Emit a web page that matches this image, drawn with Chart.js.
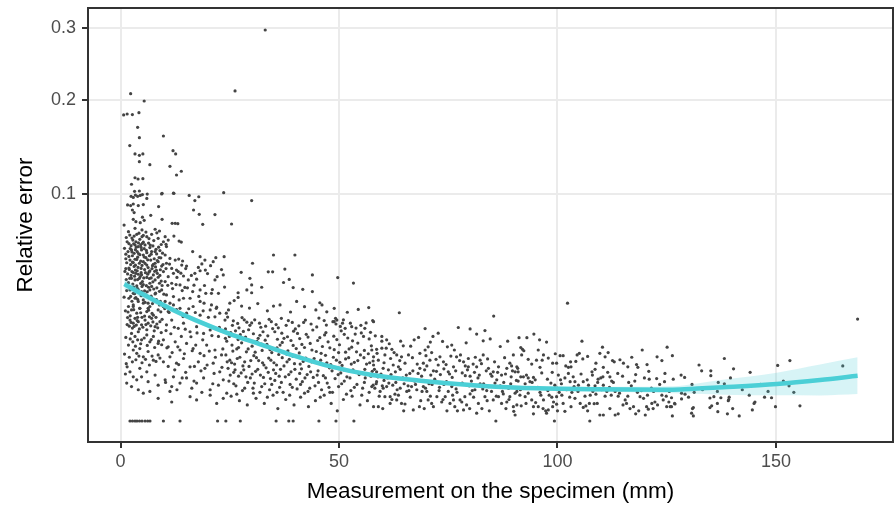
<!DOCTYPE html>
<html><head><meta charset="utf-8">
<script src="https://cdn.jsdelivr.net/npm/chart.js@4.4.1/dist/chart.umd.min.js"></script>
<style>html,body{margin:0;padding:0;background:#fff;}canvas{display:block;}</style>
</head><body>
<canvas id="c" width="896" height="511" style="width:896px;height:511px"></canvas>
<script>
// ---- tick values ----
const xTicks = [0, 50, 100, 150];
const yTicks = [0.1, 0.2, 0.3];

// ---- observations: [measurement (mm), relative error] ----
const ptsUpper = [[33.1,.2974],[26.2,.2119],[2.3,.2084],[5.4,.1992],[0.7,.1822],[1.5,.1833],[2.7,.1826],[4.2,.1849],[3.9,.1678],[4.3,.1561],[9.8,.158],[2.1,.1475],[3.3,.1387],[4.3,.1373],[5.1,.1387],[12.0,.1421],[12.6,.1387],[4.3,.1308],[6.7,.1278],[11.3,.1262],[13.9,.1213],[12.8,.1177],[3.3,.1151],[4.0,.1139],[5.1,.1142],[2.5,.109],[3.2,.1026],[4.3,.1029],[6.1,.1002],[9.5,.1008],[12.2,.1008],[23.6,.1014],[30.0,.0945],[25.4,.0755],
[2.4,.0982],[2.9,.0972],[3.4,.0993],[3.9,.0982],[4.5,.099],[5.0,.0997],[6.0,.0964],[9.4,.1003],[12.1,.101],[15.7,.099],[17.9,.0978],[17.0,.0945],[1.6,.0908],[2.3,.0903],[2.9,.0916],[4.05,.0903],[5.2,.0911],[8.7,.0894],[2.7,.0866],[3.1,.0845],[16.7,.0866],[18.0,.0831],[21.6,.0829],[6.9,.0823],[5.0,.0808],[2.9,.0791],[3.5,.0773],[4.5,.0765],[5.4,.0783],[9.5,.0791],[11.8,.076],[12.5,.076],[13.1,.0757],[18.8,.0752],[0.8,.0747],[3.3,.0722],[4.9,.071],[7.9,.0715],[8.9,.0702],[1.8,.0697]];

const pts0to25 = [[3.1,.0665],[3.7,.0678],[5.2,.067],[6.0,.0661],[7.1,.0678],[8.6,.0649],[10.2,.0661],[12.2,.0665],[13.4,.063],[13.9,.0623],
[2.8,.0637],[3.5,.0625],[4.4,.0642],[5.0,.0614],[3.3,.0603],[4.05,.0592],[5.6,.0603],[6.7,.0585],[9.8,.0625],[10.4,.0607],[10.9,.0637],[10.5,.0592],
[2.5,.0569],[3.1,.0547],[3.8,.0558],[4.8,.0569],[5.2,.0536],[6.0,.0551],[7.1,.0558],[8.25,.0543],[9.0,.0565],[10.2,.0536],[11.3,.0514],[12.5,.0504],[13.3,.051],[14.2,.0498],[16.5,.0558],[18.2,.0525],[19.3,.0504],[21.2,.0494],[21.8,.0519],[23.7,.0525],
[2.15,.0504],[2.9,.0488],[3.7,.0508],[4.3,.0484],[5.2,.0494],[6.0,.0473],[6.9,.0504],[7.9,.0484],[8.6,.0494],[9.4,.0467],[10.5,.0484],[11.7,.0453],[12.8,.0443],[14.0,.0473],[15.1,.0467],[17.0,.0424],[18.2,.0439],[19.4,.0443],[18.6,.048],
[2.0,.0447],[2.6,.0434],[3.4,.0443],[4.05,.0419],[4.7,.0453],[5.7,.0428],[6.7,.0439],[7.5,.0415],[8.4,.0424],[9.8,.0434],[10.9,.0405],[12.1,.0424],[13.2,.0434],[14.4,.0409],[15.5,.0387],[17.4,.0391],[22.1,.0405],[23.5,.0415],[21.6,.0387],
[2.5,.0396],[3.3,.0387],[4.3,.0396],[5.0,.0378],[6.0,.0401],[6.7,.0369],[7.9,.0387],[8.9,.0369],[10.2,.0378],[11.7,.0369],[13.6,.036],[14.7,.0347],[16.5,.0326],[18.2,.0334],[19.5,.0317],[20.8,.0317],[22.4,.0317],
[2.15,.0334],[2.9,.0317],[3.8,.0343],[4.8,.0326],[5.8,.0309],[6.7,.0334],[7.9,.0314],[9.4,.0334],[10.5,.0309],[12.1,.0301],[13.4,.0285],[14.4,.0293],[15.9,.0293],[18.2,.0278],[19.1,.027],[20.8,.0262],[22.0,.0252],
[3.3,.0293],[4.05,.0278],[5.2,.0285],[6.3,.027],[7.5,.0285],[8.9,.0262],[10.2,.0278],[2.9,.0255],[4.4,.0247],[6.3,.0247],[9.8,.0255],[11.3,.027],
[1.9,.0612],[2.4,.0598],[3.6,.0588],[4.6,.0604],[5.4,.0578],[6.4,.0616],[7.4,.0596],[8.1,.0573],[1.7,.0558],[2.7,.0531],[3.9,.0522],[4.4,.0538],[5.8,.0519],[6.6,.0531],[7.7,.0512],[8.8,.052],[2.3,.0476],[3.1,.0465],[4.0,.0459],[4.9,.0471],[5.5,.0446],[6.3,.0458],[7.2,.0452],[8.0,.0462],[1.6,.0421],[2.4,.0412],[3.5,.0424],[4.5,.0406],[5.3,.0398],[6.2,.0419],[7.0,.0398],[7.8,.0436],[9.1,.0445],[1.8,.0372],[2.8,.0365],[3.7,.0355],[4.6,.0368],[5.9,.0356],[7.1,.0352],[8.3,.0345],[9.5,.0357],[1.4,.0331],[2.3,.0302],[3.5,.0296],[4.4,.0321],[6.1,.0325],[7.0,.0303],
[0.9,.058],[1.2,.0512],[1.0,.0435],[1.3,.0389],[0.8,.0298],[1.1,.0236],[1.5,.0181],[1.2,.0136],[0.9,.0087],[1.3,.0064],[1.1,.0043],
[1.8,.0255],[2.5,.024],[2.9,.0262],[3.7,.0226],[4.4,.0247],[5.2,.027],[6.0,.0233],[6.7,.0255],[7.5,.0218],[8.6,.024],[9.8,.0255],[10.9,.0233],[12.1,.0262],[13.6,.0247],[15.1,.0226],[16.6,.0255],[18.2,.0218],[20.5,.024],[21.6,.0211],[22.7,.0226],[23.9,.0198],
[2.15,.0198],[2.9,.0186],[3.3,.0205],[4.05,.0192],[4.8,.018],[5.6,.0198],[6.3,.0186],[7.1,.0205],[7.9,.0173],[9.0,.0192],[10.5,.018],[11.7,.0198],[13.2,.0167],[14.4,.0186],[15.9,.0155],[17.4,.0173],[19.0,.0149],[20.5,.0161],[22.4,.0139],[23.9,.0155],
[2.5,.0149],[3.3,.0139],[4.05,.0155],[4.8,.0128],[6.0,.0144],[6.7,.0122],[7.5,.0139],[8.6,.0117],[9.8,.0128],[10.9,.0107],[12.5,.0122],[13.6,.0098],[15.1,.0117],[16.6,.0102],[18.2,.0089],[19.7,.0112],[21.6,.0098],[23.1,.0085],
[1.8,.0112],[2.9,.0098],[3.7,.0089],[4.4,.0102],[5.2,.008],[6.3,.0094],[7.5,.0072],[8.6,.0085],[9.8,.0068],[11.3,.008],[12.8,.0065],[14.4,.0076],[15.9,.0057],[17.8,.0068],[19.3,.0054],[21.2,.0065],[22.7,.0047],
[1.5,.0057],[2.15,.0047],[2.9,.0038],[3.7,.0033],[4.4,.0054],[4.8,.0038],[6.0,.0047],[6.3,.003],[7.9,.0041],[8.6,.0025],[10.2,.0033],[11.7,.0023],[12.1,.0038],[13.6,.0028],[15.1,.0036],[16.3,.0021],[17.4,.0028],[19.0,.0036],[20.5,.0019],[22.4,.0025],[23.5,.0033],
[1.4,.0028],[2.5,.0023],[4.05,.0019],[5.2,.0015],[6.7,.0017],[8.6,.001],[11.3,.0017],[11.7,.0007],[15.9,.00115],[17.4,.00086],[20.5,.0013],[22.0,.0006],[23.5,.001],
[1.7,.0231],[2.2,.0215],[3.0,.0241],[3.9,.0209],[4.6,.0228],[5.5,.0214],[6.4,.0239],[7.2,.0225],[8.1,.0209],[9.2,.0232],[2.0,.0175],[2.7,.0168],[3.6,.0179],[4.3,.0165],[5.1,.0171],[6.0,.0162],[6.9,.0176],[7.7,.0158],[8.5,.0169],[9.3,.0152],
[1.3,.0655],[2.1,.0672],[2.6,.0651],[4.2,.0686],[4.9,.0661],[5.8,.0694],[6.5,.0647],[7.6,.0633],[8.3,.0689],[9.3,.0606],
[1.5,.0625],[2.2,.0578],[3.0,.0611],[3.4,.0571],[4.1,.0617],[4.7,.0586],[5.2,.0622],[5.9,.0566],[6.8,.0602],[7.9,.0558],[8.7,.0588],[9.6,.0548],
[1.2,.0541],[1.9,.0527],[2.6,.0556],[3.3,.0509],[4.1,.0545],[4.6,.0497],[5.4,.0523],[6.2,.0505],[7.0,.0541],[7.5,.0478],[8.4,.0501],[9.2,.0518],
[1.4,.0487],[1.9,.0455],[2.7,.0491],[3.4,.0472],[3.8,.0439],[4.7,.0428],[5.6,.0483],[6.5,.0431],[7.3,.0469],[8.2,.0441],[9.0,.0412],[9.7,.0476],
[1.2,.0452],[2.1,.0396],[2.9,.0429],[3.2,.0408],[3.9,.0389],[4.8,.0416],[5.2,.0362],[6.6,.0395],[7.4,.0377],[8.6,.0402],[9.3,.0381],
[1.6,.0356],[2.3,.0341],[3.0,.0349],[4.0,.0337],[4.9,.0352],[5.5,.0329],[6.4,.0348],[7.6,.0339],[8.0,.0318],[8.9,.0327],[9.9,.0313],
[1.9,.0293],[2.6,.0279],[3.2,.0315],[3.9,.0288],[4.7,.0305],[5.6,.0274],[6.5,.0296],[7.3,.0268],[8.2,.0287],[9.1,.0279],
[1.6,.0208],[2.4,.0189],[3.1,.0174],[3.8,.0196],[4.9,.0209],[5.8,.0181],[6.6,.0211],[7.4,.0191],[8.3,.0183],[9.5,.0201],
[2.2,.0131],[2.8,.0122],[3.4,.0109],[3.9,.0128],[4.6,.0116],[5.4,.0134],[6.1,.0111],[7.0,.0129],[7.8,.0105],[8.7,.0124],[9.4,.0113],
[2.0,.0079],[2.7,.0068],[3.5,.0073],[4.2,.0082],[4.9,.0066],[5.7,.0074],[6.6,.0061],[7.2,.0082],[8.1,.0069],[9.0,.0077],
[10.4,.0452],[11.2,.0479],[12.9,.0401],[13.8,.0425],[14.9,.0452],[16.2,.0412],[17.8,.0459],[19.9,.0423],[20.6,.0469],[23.1,.0446],
[10.8,.0358],[11.9,.0341],[12.7,.0362],[14.1,.0331],[15.3,.0345],[16.8,.0359],[17.9,.0302],[19.2,.0357],[21.0,.0336],[23.8,.0349],
[10.1,.0246],[11.1,.0229],[12.8,.0241],[14.3,.0212],[15.6,.0245],[17.1,.0229],[18.9,.0236],[20.1,.0209],[21.9,.0247],[24.2,.0226],
[10.4,.0159],[11.5,.0148],[12.3,.0171],[13.9,.0139],[14.8,.0164],[16.1,.0138],[17.5,.0151],[18.8,.0128],[20.9,.0142],[22.6,.0171],[24.0,.0133],
[10.6,.0104],[11.8,.0091],[13.1,.0107],[14.6,.0088],[16.4,.0096],[17.2,.0112],[19.1,.0083],[20.3,.0095],[21.7,.0079],[23.4,.0101],
[10.9,.0058],[12.4,.0051],[13.3,.0062],[14.9,.0046],[16.9,.0058],[18.4,.0049],[19.8,.0061],[21.4,.0044],[23.2,.0056],[24.4,.0068],
[10.3,.0029],[12.9,.0019],[14.1,.0036],[16.8,.0031],[18.6,.0016],[21.1,.0027],[24.3,.0015]];

const pts25to58 = [[35,.0536],[39.9,.0536],[30.2,.0484],[27.6,.043],[33.8,.0433],[34.8,.0433],[37.6,.0449],[29.6,.0396],[26.9,.032],[26.9,.0297],[37.3,.0373],[38.6,.039],[39.5,.0346],[41.7,.0337],[43.9,.0415],[43.9,.0326],[49.7,.04],[53.3,.037],[28.9,.0334],[30,.036],[30,.032],[32.3,.0348],
[25,.027],[24.7,.024],[27.7,.0257],[35,.0257],[42.1,.0254],[45.6,.0272],[47.2,.0232],[48.9,.0247],[54.4,.0242],[49.2,.0205],[49.5,.0198],[48.9,.0192],[50.8,.0186],[51.4,.0167],[52.9,.0173],[55.9,.0167],[57.9,.0192],
[26.0,.0282],[29.5,.0248],[31.4,.0268],[33.6,.0236],[36.5,.0262],[38.9,.0231],[40.3,.0278],[44.7,.024],[46.1,.0262],[51.9,.023],[56.8,.025],
[24.5,.021],[25.8,.0195],[26.8,.0185],[27.8,.0208],[28.9,.019],[29.6,.0178],[30.7,.0199],[31.8,.0186],[33.2,.0175],[34.5,.0192],[35.6,.0181],[36.8,.0205],[37.9,.0178],[39.3,.0189],[40.8,.0176],[42.3,.0198],[43.6,.0183],[45.4,.0206],[47.1,.0179],[48.6,.0192],[50.3,.0174],[52.6,.0186],[55.0,.0178],
[24.0,.0165],[25.2,.0152],[26.3,.0158],[27.4,.0145],[28.6,.0137],[29.3,.0162],[30.4,.0148],[31.5,.0133],[32.6,.0155],[33.7,.0141],[34.8,.0166],[35.9,.013],[36.9,.015],[38.2,.0138],[39.6,.0157],[41.0,.0132],[42.5,.0146],[44.0,.0161],[45.6,.0135],[47.0,.0152],[48.8,.014],[50.5,.0158],[52.0,.0134],[53.7,.0147],[55.6,.0139],[57.2,.0153],
[24.3,.0124],[25.5,.0112],[26.6,.0101],[27.7,.0119],[28.8,.0093],[30.1,.0109],[31.2,.0123],[32.4,.0097],[33.5,.0114],[34.6,.0091],[35.8,.0104],[37.0,.012],[38.3,.0096],[39.5,.0111],[40.9,.009],[42.1,.0105],[43.4,.0117],[44.8,.0094],[46.2,.0108],[47.5,.0122],[48.9,.0099],[50.1,.0113],[51.5,.0092],[52.9,.0106],[54.3,.0118],[55.8,.0097],[57.4,.011],
[24.1,.0085],[25.0,.0072],[26.1,.0063],[27.3,.0079],[28.4,.0068],[29.4,.0058],[30.5,.0083],[31.6,.0071],[32.8,.0061],[33.9,.0077],[35.1,.0066],[36.2,.0086],[37.4,.0059],[38.6,.0074],[39.8,.0064],[40.6,.0081],[41.8,.0069],[43.1,.0058],[44.3,.0076],[45.5,.0065],[46.9,.0084],[48.1,.0062],[49.4,.0072],[50.7,.006],[52.2,.0078],[53.5,.0067],[54.9,.0085],[56.3,.0063],[57.8,.007],
[24.6,.0054],[25.9,.0046],[27.0,.0039],[28.2,.0051],[29.7,.0036],[30.9,.0048],[32.0,.0041],[33.3,.0055],[34.3,.0035],[35.5,.0044],[36.6,.0052],[37.7,.0038],[39.0,.0047],[40.2,.0034],[41.4,.0053],[42.7,.0042],[44.1,.0037],[45.2,.0049],[46.4,.004],[47.8,.0055],[49.1,.0035],[50.4,.0045],[51.8,.0038],[53.2,.0051],[54.6,.0042],[56.0,.0036],[57.6,.0048],
[24.8,.0031],[26.4,.0024],[27.9,.0018],[29.1,.0029],[30.3,.0021],[31.9,.0016],[33.0,.0027],[34.1,.0019],[35.3,.0032],[36.4,.0022],[37.2,.0016],[38.8,.0026],[40.4,.002],[41.6,.003],[42.9,.0017],[44.5,.0024],[46.0,.0019],[47.3,.0028],[48.5,.0016],[49.9,.0023],[51.2,.0031],[52.7,.0018],[54.1,.0026],[55.4,.0021],[56.9,.0016],
[25.3,.0012],[27.2,.0008],[29.0,.0005],[31.0,.001],[32.9,.0006],[34.9,.0013],[36.0,.0003],[37.8,.0009],[39.7,.0005],[41.2,.0011],[43.0,.0004],[44.6,.0008],[46.6,.0013],[48.2,.0006],[49.6,.0002],[51.0,.0009],[53.0,.0012],[54.8,.0005],[56.5,.0008],
[25.6,.0178],[27.1,.0169],[28.3,.0199],[30.0,.0187],[32.1,.0171],[34.0,.0201],[36.1,.0169],[38.4,.0196],[40.0,.0165],[41.9,.0189],[44.9,.0172],[46.6,.0196],[49.3,.0183],[51.0,.0199],[53.9,.0168],[56.2,.0187],
[24.9,.0139],[26.9,.0129],[28.1,.0156],[29.9,.0124],[31.9,.0143],[33.1,.0127],[35.3,.0155],[37.4,.0133],[39.0,.0126],[40.5,.0149],[42.9,.0137],[45.1,.0126],[46.7,.0144],[49.5,.0129],[51.2,.0146],[53.1,.0125],[55.1,.0151],[56.9,.0131],
[25.7,.0095],[27.0,.0105],[29.2,.0101],[30.8,.0092],[32.3,.0115],[34.2,.0099],[36.5,.0112],[38.0,.0087],[40.2,.0102],[41.5,.0114],[43.8,.0098],[45.9,.0089],[47.9,.0104],[49.9,.0091],[52.3,.0101],[54.0,.0093],[56.7,.0088],
[25.4,.0066],[26.7,.0076],[28.0,.0059],[29.8,.0071],[31.1,.0078],[32.5,.0066],[34.4,.0072],[35.7,.0061],[37.0,.0078],[38.1,.0068],[39.4,.0082],[41.1,.0063],[42.4,.0077],[43.7,.0068],[45.8,.0072],[47.2,.0066],[48.7,.0079],[50.2,.0067],[51.5,.0075],[52.8,.0063],[54.3,.0071],[55.7,.0078],[57.0,.0066],
[25.1,.0041],[26.2,.0051],[27.6,.0045],[28.7,.0038],[30.1,.0043],[31.4,.0052],[32.7,.0037],[33.8,.0046],[35.0,.0051],[36.3,.0039],[38.5,.0042],[39.9,.0052],[41.0,.0044],[42.2,.0036],[43.5,.0047],[45.0,.0041],[46.9,.0036],[48.4,.0049],[49.8,.0042],[51.1,.0051],[52.5,.0036],[54.3,.0046],[55.9,.0052],[57.3,.0039],
[25.9,.0027],[28.4,.0021],[30.6,.0028],[32.3,.0023],[34.6,.0026],[36.8,.0029],[39.3,.0022],[41.2,.0026],[43.3,.0021],[45.3,.0029],[47.7,.0022],[50.6,.0027],[53.5,.0022],[55.8,.0029],[57.8,.0025],
[26.6,.0014],[30.4,.0015],[33.6,.0011],[35.8,.0016],[38.7,.0013],[42.1,.0015],[45.7,.0011],[47.9,.0016],[51.7,.0014],[55.2,.0013]];

const pts58to90 = [[63.8,.0228],[57.7,.0196],[85.4,.0214],[77.3,.017],[80,.0165],[69.7,.0166],[72.7,.015],[59.8,.0139],[59.8,.0124],[60.9,.0128],[81.5,.0147],[83.4,.0159],[84.6,.0131],[83,.0125],[67.2,.0128],[68.2,.0136],[64.1,.0124],[64.7,.011],[71.5,.0139],[73.7,.0123],[74.8,.0107],[75.8,.0112],
[57.5,.0098],[58.6,.01],[59.8,.0103],[60.8,.0103],[62.1,.01],[57.9,.008],[59,.0072],[60.5,.0085],[61.8,.0076],[63.2,.0085],[64.3,.008],[65.9,.0085],[65.1,.0065],[63.6,.0057],[62.4,.0061],[61.3,.0051],[60.1,.0054],[58.6,.0047],[57.9,.0061],
[68.5,.0089],[69.7,.0098],[70.4,.0107],[71.2,.0091],[70.8,.0072],[69.3,.0065],[68.5,.0054],[70.1,.0059],[71.6,.0049],[72.7,.0061],[73.1,.008],[73.9,.0068],[75,.0047],[76.2,.0057],[76.9,.008],[77.8,.0085],[78.5,.0068],[79.6,.0076],[79.6,.0057],[80.7,.0063],[81.5,.0057],[80,.0039],[82.3,.0072],[83,.0085],[84.2,.0054],[85.3,.0047],[86.5,.0057],[87.2,.0041],[88.4,.0054],[89.1,.0065],[89.9,.0085],[91,.0047],[90.7,.0057],
[57.5,.0023],[58.2,.0021],[59.4,.0017],[60.1,.0021],[60.9,.0023],[60.5,.00115],[61.7,.0006],[63.2,.00086],[64.3,.0006],[65.1,.00056],[62.8,.0014],[65.5,.0017],[66.6,.0023],[67.8,.0019],[69.3,.0023],[70.1,.0017],[70.4,.00086],[71.2,.0006],[71.6,.0004],[72.4,.00115],[73.5,.0007],[74.3,.00115],[75,.0017],[75.4,.0006],[76.2,.00086],[76.5,.0004],[77.1,.0002],[77.7,.00086],[78.8,.00115],[78.5,.00024],[79.2,.0005],[80,.00142],[81.1,.0019],[81.9,.0006],[81.5,.00012],[82.7,.0003],[83.4,.00115],[84.2,.0023],[84.9,.0017],[85.3,.00086],[86.5,.00115],[87.2,.0006],[87.6,.00142],[88.4,.0007],[89.1,.00115],[89.9,.0004],[90,.00018],[90.3,.00007],[90.7,.0017],[68.4,.0004],[67,.00024],[61.7,.00115],[64,.0021],[58.6,.003],[59,.0004],[57.9,.0004],
[58.9,.0038],[60.3,.0032],[61.9,.0042],[63.0,.0029],[64.6,.0036],[66.2,.0044],[67.3,.0031],[68.9,.0039],[70.6,.0027],[71.9,.0034],[73.2,.0042],[74.6,.003],[75.9,.0037],[77.4,.0026],[78.9,.004],[80.3,.0031],[81.8,.0036],[83.1,.0027],[84.7,.0043],[86.1,.0033],[87.7,.0029],[89.4,.0038],[90.6,.0032],[62.3,.0025],[65.8,.0024],[69.8,.0021],[73.0,.0022],[76.8,.002],[79.8,.0024],[82.9,.002],[86.9,.0024],[88.8,.0021],
[58.3,.0141],[61.5,.0116],[66.4,.0109],[70.9,.0121],[76.4,.0098],[79.1,.0119],[86.9,.0108],[88.6,.0124],
[58.7,.0089],[60.3,.0066],[62.6,.0091],[63.9,.0071],[66.8,.0078],[67.9,.0063],[69.9,.0083],[72.2,.0074],[74.5,.0062],[75.6,.0082],[77.6,.0071],[78.9,.0059],[81.2,.0079],[82.6,.0064],[84.0,.0075],[85.6,.0068],[87.9,.0078],[89.5,.0059],
[58.1,.0052],[59.6,.0043],[61.1,.0036],[62.9,.0047],[64.0,.0052],[65.4,.0041],[66.9,.0049],[68.1,.0044],[69.6,.0051],[71.0,.0041],[72.3,.0048],[74.0,.0053],[75.3,.0043],[76.7,.0049],[78.2,.0045],[79.4,.0051],[81.0,.0046],[82.1,.0041],[83.7,.0049],[85.0,.0039],[86.3,.0046],[88.1,.0043],[89.7,.0049],
[58.5,.0027],[59.9,.0024],[61.4,.0028],[63.3,.0019],[64.9,.0027],[66.0,.0018],[67.5,.0026],[69.0,.0017],[71.3,.0026],[72.9,.0018],[74.0,.0026],[75.8,.0023],[77.0,.0016],[78.2,.0028],[80.5,.0018],[82.3,.0027],[83.8,.0018],[85.7,.0028],[87.4,.0017],[89.3,.0027],
[59.2,.0012],[62.1,.0009],[63.6,.0013],[66.3,.0011],[68.7,.0008],[70.9,.0012],[73.8,.0009],[76.0,.0013],[78.1,.0007],[80.8,.0011],[83.9,.0008],[86.0,.0012],[88.9,.0009],
[60.0,.0003],[64.8,.0002],[69.5,.0003],[74.7,.0002],[79.9,.0003],[84.4,.0002],[88.2,.0003]];

const pts90to170 = [[102.3,.027],[91.2,.0135],[93,.0135],[94.6,.0147],[95.9,.0128],[97.5,.0121],[91.6,.0105],[92.3,.0096],[92,.01],[95.6,.0098],[96.8,.0085],[93.3,.0074],[95.2,.0072],[96.5,.0072],[96,.0056],[105.6,.0124],[104.5,.0085],[105,.0089],[105.8,.0075],[103,.0068],[102.5,.0056],[103.1,.0057],[98.9,.0065],[99.8,.0065],[100.6,.0083],[101.3,.0083],[110.3,.0106],[109.7,.0089],[110.9,.008],[112.6,.0071],[113,.0068],[108.6,.0052],[110.5,.0056],[112,.0038],[110.4,.0038],[109.9,.0036],[108,.0041],[113.8,.0044],[115.1,.0065],[116.1,.0057],[118.1,.0062],[118.4,.0056],[119.4,.0098],[122.8,.008],[125.1,.0106],[90.9,.0054],[90.3,.0047],[91.6,.0038],[92.2,.0038],[93.3,.0036],[94.5,.0037],[94.9,.0033],[93.7,.003],[92.6,.0027],[98.5,.0028],[99.4,.0025],[100.2,.0041],[100.7,.0033],[101.7,.0036],[102.9,.003],[104,.003],[104.8,.0025],[105.9,.003],[107.1,.0025],[108.6,.0024],[109.2,.0029],[110.5,.0025],
[90.3,.0015],[91.4,.0013],[92.6,.00115],[93.3,.0015],[94.1,.00086],[95,.00066],[95.6,.0004],[94.5,.0004],[90.7,.0005],[91.7,.00045],[94.5,.0001],[97.5,.00012],[97.3,.0002],[97.9,.00024],[98.9,.0004],[99.8,.00055],[101,.0013],[99.8,.00115],[98.7,.0011],[96.8,.00086],[96.2,.0013],[101.3,.0006],[103.3,.0016],[104,.001],[105.2,.0006],[106.5,.00044],[105.9,.00036],[107.3,.0006],[108.4,.00058],[107.5,.0013],[110.9,.0012],[111.3,.0017],[113.2,.0017],[113.9,.0012],[115.5,.00086],[115.8,.0006],[117.4,.0004],[117.9,.0001],[116.6,.0003],[118.9,.00115],[119.7,.001],[120.4,.0004],[120.8,.00027],[121.6,.0006],[122.3,.0007],[122.9,.0005],[123.9,.0013],[124.2,.00086],[125,.0004],[126.1,.0004],[126.8,.0006],[120.1,.00007],[113.2,.00007],[113.9,.0001],[110.5,.00007],[109.7,.00007],[101.7,.00018],[100,.0002],
[95.5,.0022],[97.8,.0018],[99.9,.0021],[102.1,.0019],[103.8,.0023],[106.2,.002],[108.1,.0017],[111.9,.0022],[114.6,.0019],[116.9,.0024],[119.2,.0018],[121.5,.0021],[123.4,.0026],[125.6,.0017],[112.8,.0029],[117.7,.0031],[121.0,.0034],[124.5,.003],
[91.8,.0085],[94.1,.0063],[97.9,.0077],[99.5,.0088],[101.9,.0059],[104.2,.0069],[106.9,.0081],[108.8,.0065],[111.6,.0091],[114.3,.0073],[117.0,.0079],[120.5,.0062],[123.9,.0071],[126.3,.0083],
[91.0,.0031],[92.9,.0041],[94.2,.0029],[96.4,.0045],[97.7,.0034],[98.8,.0046],[100.9,.0027],[102.5,.0044],[103.6,.0038],[105.4,.0043],[106.8,.0033],[107.9,.0047],[109.3,.0034],[111.5,.0046],[112.4,.0031],[114.9,.0039],[116.3,.0029],[117.9,.0042],[119.9,.0036],[120.9,.0048],[122.7,.0035],[124.6,.0044],[126.5,.0034],
[91.5,.0019],[93.6,.0021],[96.0,.0016],[98.1,.0013],[100.4,.0016],[102.8,.0011],[104.7,.0017],[106.3,.0012],[108.8,.0014],[110.1,.0019],[112.3,.0013],[114.2,.0015],[116.1,.0012],[118.3,.0016],[120.6,.0013],[122.0,.0017],[124.9,.0012],
[92.8,.0006],[96.7,.0003],[99.1,.0007],[103.1,.0004],[106.9,.0002],[109.1,.0006],[112.0,.0003],[115.0,.0005],[118.6,.0002],[121.9,.0003],[125.5,.0007],
[168.7,.0202],[165.3,.0059],[153.2,.0071],[150.4,.006],[138.2,.0076],[140.3,.0053],[133,.0049],[135.1,.0049],[135.1,.004],[128.3,.0041],[129.1,.0037],[139.6,.0036],[136.8,.0029],[138.2,.0027],[130.8,.0026],[151.7,.0031],[153,.0024],[154.1,.0016],[133.2,.0019],[131.3,.0016],[136.6,.0017],[128.4,.0015],[129.2,.0014],[130,.0011],[128.4,.00095],[134.9,.00103],[135.8,.00115],[137.4,.00105],[139.3,.0011],[139.1,.0008],[136.6,.0006],[135.3,.00045],[134.9,.00035],[140.1,.0003],[139.2,.0009],[147.4,.0011],[149,.00105],[145.2,.0007],[145,.0006],[149.9,.0004],[144.6,.00024],[155.5,.00045],[125.8,.0004],[126.3,.00005],[126.9,.00056],[130.9,.0003],[131.1,.00035],[130.7,.00012],[131.1,.00005],[136.7,.00017],[138.9,.0001],[141.6,.00005],[126.1,.00105],
[142.3,.0019],[143.9,.0013],[146.5,.0026],[148.2,.0017],[144.1,.0046],[132.4,.0061]];

const ptsZero = [[2.15,0],[2.72,0],[3.3,0],[3.75,0],[4.33,0],[4.9,0],[5.6,0],[6.2,0],[6.73,0],[9.8,0],[13.6,0],[22.2,0],[24.1,0],[27.4,0],[35.6,0],[38.5,0],[39.5,0],[45.4,0],[49.3,0],[53.4,0],[85.9,0],[99.3,0],[107.4,0]];

// ---- smooth fit with confidence band (relative error units) ----
const fitX     = [0.85, 5, 11.3, 17, 24.65, 31.5, 39.2, 46.8, 57.6, 68.6, 80, 91, 100, 108.6, 117, 126.4, 132, 137.9, 150.2, 160.1, 168.7];
const fitY     = [.03648, .03133, .02465, .01988, .01496, .01166, .00846, .00608, .0041, .00316, .00252, .00214, .00203, .00195, .00192, .00191, .00204, .00221, .00266, .00327, .00399];
const fitUpper = [.0392, .03331, .02592, .02088, .0157, .01228, .00899, .00653, .00445, .00346, .00279, .0024, .0023, .00225, .00227, .00235, .00275, .00331, .00454, .00621, .00789];
const fitLower = [.03386, .02941, .02341, .01891, .01423, .01107, .00796, .00566, .00376, .00287, .00227, .0019, .00178, .00168, .0016, .00151, .00144, .00133, .00128, .00127, .00141];

const FONT = '"Liberation Sans", Arial, Helvetica, sans-serif';
const sq = v => Math.sqrt(Math.max(v, 0));
const toXY = arr => arr.map(p => ({ x: p[0], y: sq(p[1]) }));
const curve = ys => fitX.map((x, i) => ({ x: x, y: sq(ys[i]) }));
const allPts = [].concat(ptsUpper, pts0to25, pts25to58, pts58to90, pts90to170, ptsZero);

const panelBorder = {
  id: 'panelBorder',
  afterDatasetsDraw(chart) {
    const a = chart.chartArea, ctx = chart.ctx;
    ctx.save();
    ctx.strokeStyle = '#333333';
    ctx.lineWidth = 2;
    ctx.strokeRect(a.left, a.top, a.right - a.left, a.bottom - a.top);
    ctx.restore();
  }
};

new Chart(document.getElementById('c'), {
  type: 'scatter',
  data: {
    datasets: [
      { type: 'line', data: curve(fitY), borderColor: '#4BCFD6', borderWidth: 4.5, pointRadius: 0, fill: false, cubicInterpolationMode: 'monotone', order: 0 },
      { type: 'line', data: curve(fitUpper), borderColor: 'rgba(0,0,0,0)', borderWidth: 0, pointRadius: 0, fill: '+1', backgroundColor: 'rgba(75,207,214,0.22)', cubicInterpolationMode: 'monotone', order: 1 },
      { type: 'line', data: curve(fitLower), borderColor: 'rgba(0,0,0,0)', borderWidth: 0, pointRadius: 0, fill: false, cubicInterpolationMode: 'monotone', order: 2 },
      { type: 'scatter', data: toXY(allPts), pointRadius: 1.6, pointBackgroundColor: '#444444', pointBorderWidth: 0, order: 3 }
    ]
  },
  options: {
    responsive: false,
    animation: false,
    devicePixelRatio: 1,
    events: [],
    layout: { padding: { top: 8, right: 3, left: 0, bottom: 0 }, autoPadding: false },
    plugins: { legend: { display: false }, tooltip: { enabled: false } },
    scales: {
      x: {
        type: 'linear', min: -7.46, max: 176.8,
        afterBuildTicks: s => { s.ticks = xTicks.map(v => ({ value: v })); },
        afterFit: s => { s.height = 69; s.paddingLeft = 0; s.paddingRight = 0; },
        grid: { color: '#EBEBEB', lineWidth: 2, tickColor: '#333333', tickLength: 6, tickWidth: 2 },
        border: { display: false },
        ticks: { font: { family: FONT, size: 18 }, color: '#4D4D4D', padding: 3, maxRotation: 0, autoSkip: false },
        title: { display: true, text: 'Measurement on the specimen (mm)', font: { family: FONT, size: 22.5 }, color: '#000000', padding: { top: 0, bottom: 6 } }
      },
      y: {
        type: 'linear', min: -0.0293, max: 0.576,
        afterBuildTicks: s => { s.ticks = yTicks.map(v => ({ value: Math.sqrt(v) })); },
        afterFit: s => { s.width = 88; s.paddingTop = 0; s.paddingBottom = 0; },
        grid: { color: '#EBEBEB', lineWidth: 2, tickColor: '#333333', tickLength: 6, tickWidth: 2 },
        border: { display: false },
        ticks: { font: { family: FONT, size: 18 }, color: '#4D4D4D', padding: 6, autoSkip: false,
                 callback: v => String(Math.round(v * v * 10) / 10) },
        title: { display: true, text: 'Relative error', font: { family: FONT, size: 22.5 }, color: '#000000', padding: { top: 12.5, bottom: 0 } }
      }
    }
  },
  plugins: [panelBorder]
});
</script>
</body></html>
